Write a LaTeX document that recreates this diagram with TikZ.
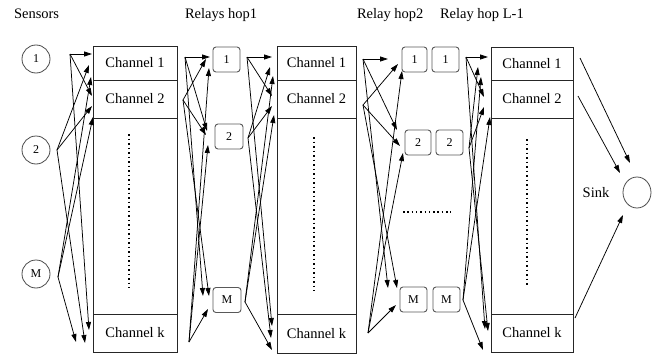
\documentclass[tikz,border=0pt]{standalone}
\usepackage{fontspec}
\setmainfont{Liberation Serif}
\usetikzlibrary{arrows.meta,shapes.geometric}
\begin{document}
\begin{tikzpicture}[x=1pt,y=-1pt,
  every node/.style={font=\fontsize{14.5}{17}\selectfont, inner sep=0pt, outer sep=0pt},
  frame/.style={draw=black!85, line width=0.9pt, anchor=north west},
  chanrow/.style={draw=black!85, line width=0.9pt, anchor=north west},
  relay/.style={draw=black!65, line width=0.9pt, rounded corners=3pt, minimum height=25pt, font=\fontsize{12}{14}\selectfont},
  sensor/.style={draw=black!70, line width=0.8pt, circle, minimum size=28pt, font=\fontsize{12}{14}\selectfont},
  arr/.style={-{Triangle[length=8pt,width=5pt]}, line width=0.75pt},
  vdots/.style={line width=1.8pt, dash pattern=on 1.6pt off 2.9pt},
  head/.style={anchor=base west}
]
\useasboundingbox (0,0) rectangle (665,356);

% headings
\node[head] (hs) at (14,18) {Sensors};
\node[head] (hr1) at (185,18) {Relays hop1};
\node[head] (hr2) at (357,18) {Relay hop2};
\node[head] (hrl) at (440,18) {Relay hop L-1};

% sensors
\node[sensor] (sen1) at (36,59) {1};
\node[sensor] (sen2) at (36,150) {2};
\node[sensor] (senM) at (36,274) {M};

% channel block 1
\node[frame, minimum width=84pt, minimum height=306pt] (box1) at (93,46) {};
\node[chanrow, minimum width=84pt, minimum height=34pt] (b1c1) at (93,46) {Channel 1};
\node[chanrow, minimum width=84pt, minimum height=38pt] (b1c2) at (93,80) {Channel 2};
\node[chanrow, minimum width=84pt, minimum height=38pt] (b1ck) at (93,314) {Channel k};
\draw[vdots] (129,134) -- (129,288);

% channel block 2
\node[frame, minimum width=79pt, minimum height=307pt] (box2) at (277,46) {};
\node[chanrow, minimum width=79pt, minimum height=34pt] (b2c1) at (277,46) {Channel 1};
\node[chanrow, minimum width=79pt, minimum height=38pt] (b2c2) at (277,80) {Channel 2};
\node[chanrow, minimum width=79pt, minimum height=39pt] (b2ck) at (277,314) {Channel k};
\draw[vdots] (314,137) -- (314,291);

% channel block 3
\node[frame, minimum width=82pt, minimum height=305pt] (box3) at (491,47) {};
\node[chanrow, minimum width=82pt, minimum height=33pt] (b3c1) at (491,47) {Channel 1};
\node[chanrow, minimum width=82pt, minimum height=38pt] (b3c2) at (491,80) {Channel 2};
\node[chanrow, minimum width=82pt, minimum height=38pt] (b3ck) at (491,314) {Channel k};
\draw[vdots] (527,139) -- (527,286);

% relays, hop 1
\node[relay, minimum width=27pt] (r1a) at (226.5,59.5) {1};
\node[relay, minimum width=28pt] (r1b) at (229,136.5) {2};
\node[relay, minimum width=28pt] (r1m) at (227,300) {M};

% relays, hop 2 and hop L-1
\node[relay, minimum width=25pt] (r2a) at (414.5,59.5) {1};
\node[relay, minimum width=27pt] (rla) at (445.5,59.5) {1};
\node[relay, minimum width=26pt] (r2b) at (418,142.5) {2};
\node[relay, minimum width=27pt] (rlb) at (449.5,142.5) {2};
\node[relay, minimum width=27pt] (r2m) at (413.5,299.5) {M};
\node[relay, minimum width=27pt] (rlm) at (446.5,299.5) {M};
\draw[line width=1.6pt, dash pattern=on 1.5pt off 2.8pt] (403,212) -- (451,212);

% sink
\node (sinklbl) at (596,193) {Sink};
\node[draw=black!70, line width=0.8pt, ellipse, minimum width=28pt, minimum height=31pt] (sink) at (637,192.5) {};

% fan-out points and arrow ends
\foreach \n/\x/\y in {
  aS1/70/54, aS2/57/150, aSM/58/277,
  aT11/92/54, aT12/92/96, aT1k/89/330,
  aT21/89/65, aT22/92/106, aT2k/85/343,
  aTM1/91/77, aTM2/93/117, aTMk/76/342,
  bS1/185/57, bS2/183/100, bSk/189/342,
  bT11/210/57, bT21/206/59, bTk1/209/68,
  bT12/207/131, bT22/206/135, bTk2/208/145,
  bT1M/203/296, bT2M/209/296, bTkM/208/309,
  cS1/247/57, cS2/248/138, cSM/245/302,
  cT11/272/57, cT12/272/96, cT1k/272/326,
  cT21/270/67, cT22/272/106, cT2k/271/338,
  cTM1/273/76, cTM2/274/115, cTMk/272/350,
  dS1/363/59, dS2/363/105, dSk/368/333,
  dT11/388/59, dT21/398/64, dTk1/402/71,
  dT12/397/130, dT22/400/146, dTk2/403/153,
  dT1M/388/288, dT2M/397/288, dTkM/396/305,
  eS1/466/57, eS2/469/148, eSM/463/300,
  eT11/488/57, eT12/484/97, eT1k/485/329,
  eT21/478/67, eT22/484/107, eT2k/488/331,
  eTM1/481/77, eTM2/490/117, eTMk/483/350,
  fS1/580/58, fS2/578/96, fSk/575/318,
  fT1/630/163, fT2/620/173, fTk/623/215}
  \coordinate (\n) at (\x,\y);

% links
\foreach \s/\t in {
  aS1/aT11, aS1/aT12, aS1/aT1k, aS2/aT21, aS2/aT22, aS2/aT2k, aSM/aTM1, aSM/aTM2, aSM/aTMk,
  bS1/bT11, bS2/bT21, bSk/bTk1, bS1/bT12, bS2/bT22, bSk/bTk2, bS1/bT1M, bS2/bT2M, bSk/bTkM,
  cS1/cT11, cS1/cT12, cS1/cT1k, cS2/cT21, cS2/cT22, cS2/cT2k, cSM/cTM1, cSM/cTM2, cSM/cTMk,
  dS1/dT11, dS2/dT21, dSk/dTk1, dS1/dT12, dS2/dT22, dSk/dTk2, dS1/dT1M, dS2/dT2M, dSk/dTkM,
  eS1/eT11, eS1/eT12, eS1/eT1k, eS2/eT21, eS2/eT22, eS2/eT2k, eSM/eTM1, eSM/eTM2, eSM/eTMk,
  fS1/fT1, fS2/fT2, fSk/fTk}
  \draw[arr] (\s) -- (\t);
\end{tikzpicture}
\end{document}
